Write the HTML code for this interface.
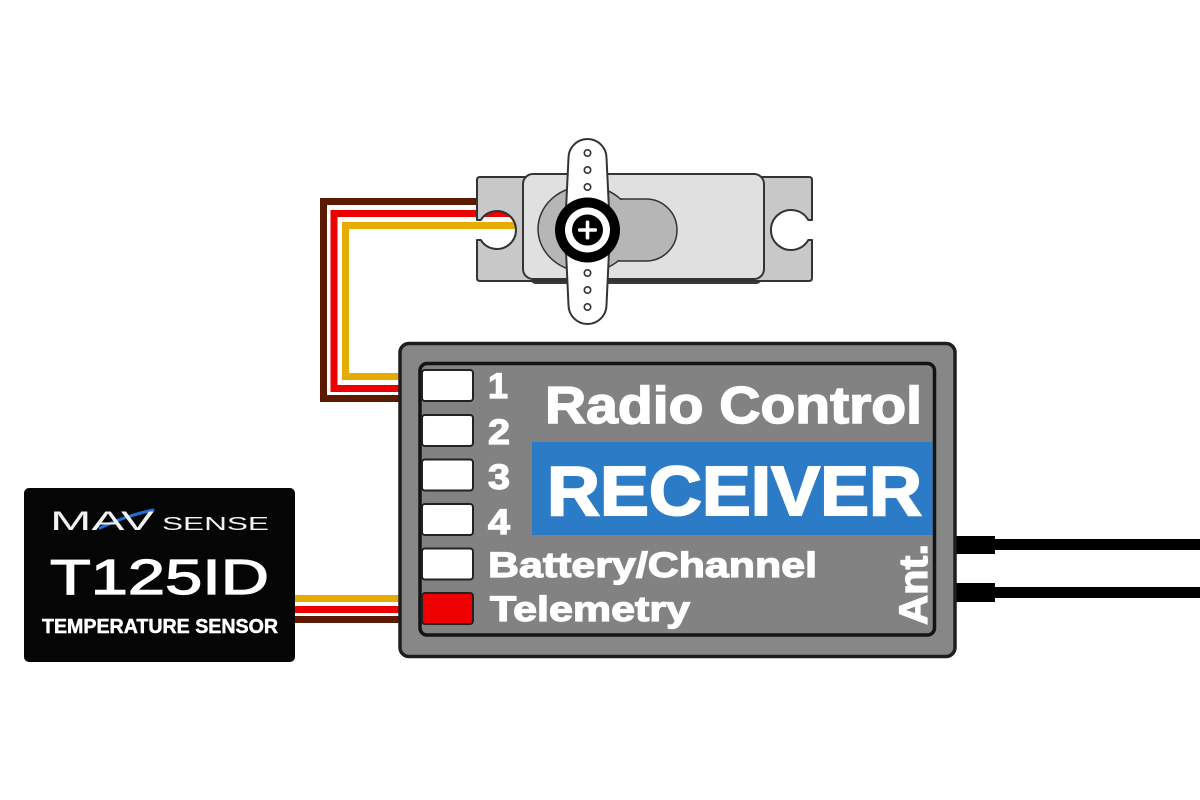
<!DOCTYPE html>
<html>
<head>
<meta charset="utf-8">
<style>
  html,body{margin:0;padding:0;background:#fff;}
  svg{display:block;}
  text{font-family:"Liberation Sans",sans-serif;}
</style>
</head>
<body>
<svg width="1200" height="800" viewBox="0 0 1200 800" xmlns="http://www.w3.org/2000/svg">
  <rect x="0" y="0" width="1200" height="800" fill="#ffffff"/>

  <!-- Servo cable (loop) -->
  <g fill="none" stroke-linejoin="miter">
    <polyline points="479,201.5 323.5,201.5 323.5,398.5 402,398.5" stroke="#5c1a00" stroke-width="7"/>
    <polyline points="512,213.5 334,213.5 334,388.5 402,388.5" stroke="#ee0000" stroke-width="7"/>
    <polyline points="515,225.5 345.5,225.5 345.5,376.5 402,376.5" stroke="#e6ac00" stroke-width="7"/>
  </g>

  <!-- Servo -->
  <rect x="530" y="266" width="232" height="18" rx="6" fill="#3a3a3a"/>
  <path d="M 480 177 H 809 Q 812 177 812 180 V 220 H 808.3 A 20 20 0 1 0 808.3 240 H 812 V 278 Q 812 281 809 281 H 480 Q 477 281 477 278 V 240 H 480.8 A 19 19 0 1 0 480.8 220 H 477 V 180 Q 477 177 480 177 Z"
        fill="#c8c8c8" stroke="#333" stroke-width="2" stroke-linejoin="round"/>
  <rect x="523" y="174" width="241" height="105" rx="10" fill="#e0e0e0" stroke="#333" stroke-width="2"/>
  <rect x="590" y="199" width="87" height="62" rx="31" fill="#b6b6b6" stroke="#333" stroke-width="1.5"/>
  <ellipse cx="586" cy="229" rx="48" ry="43" fill="#b6b6b6" stroke="#333" stroke-width="1.5"/>
  <rect x="600" y="200" width="40" height="60" fill="#b6b6b6"/>
  <!-- horn -->
  <path d="M 568.5 158 A 19 19 0 0 1 606.5 158 L 610 230 L 606.5 305 A 19 19 0 0 1 568.5 305 L 565 230 Z"
        fill="#ffffff" stroke="#333" stroke-width="2"/>
  <g fill="#fff" stroke="#333" stroke-width="1.6">
    <circle cx="587.5" cy="153" r="3.2"/>
    <circle cx="587.5" cy="170" r="3.2"/>
    <circle cx="587.5" cy="187" r="3.2"/>
    <circle cx="587.5" cy="273" r="3.2"/>
    <circle cx="587.5" cy="290" r="3.2"/>
    <circle cx="587.5" cy="307" r="3.2"/>
  </g>
  <circle cx="587.5" cy="230" r="32.5" fill="#000"/>
  <circle cx="587.5" cy="230" r="22.5" fill="#fff"/>
  <circle cx="587.5" cy="230" r="15.5" fill="#000"/>
  <rect x="578" y="228.2" width="19" height="3.6" rx="1.5" fill="#fff"/>
  <rect x="585.7" y="220.5" width="3.6" height="19" rx="1.5" fill="#fff"/>

  <!-- Sensor cable -->
  <rect x="292" y="595" width="110" height="7" fill="#e6ac00"/>
  <rect x="292" y="606" width="110" height="7" fill="#ee0000"/>
  <rect x="292" y="616" width="110" height="7" fill="#5c1a00"/>

  <!-- Antennas -->
  <rect x="950" y="536" width="45" height="18" fill="#000"/>
  <rect x="990" y="539" width="210" height="11" fill="#000"/>
  <rect x="950" y="583" width="45" height="19" fill="#000"/>
  <rect x="990" y="587" width="210" height="11" fill="#000"/>

  <!-- Receiver -->
  <rect x="400" y="343.5" width="555" height="313" rx="9" fill="#878787" stroke="#1e1e1e" stroke-width="3.5"/>
  <rect x="420" y="363.5" width="514.5" height="271.5" rx="7" fill="#828282" stroke="#141414" stroke-width="3.5"/>
  <rect x="532" y="442" width="400.5" height="93" fill="#2b7bc6"/>

  <g stroke="#222" stroke-width="2">
    <rect x="422" y="370" width="51" height="31" rx="3" fill="#fff"/>
    <rect x="422" y="415" width="51" height="31" rx="3" fill="#fff"/>
    <rect x="422" y="459.5" width="51" height="31" rx="3" fill="#fff"/>
    <rect x="422" y="504" width="51" height="31" rx="3" fill="#fff"/>
    <rect x="422" y="548.5" width="51" height="31" rx="3" fill="#fff"/>
    <rect x="422" y="593" width="51" height="31" rx="3" fill="#ee0000"/>
  </g>

  <g fill="#ffffff" stroke="#ffffff" stroke-width="1.2" font-weight="bold">
    <text x="488" y="398" font-size="35" textLength="20" lengthAdjust="spacingAndGlyphs">1</text>
    <text x="488" y="444" font-size="35" textLength="22" lengthAdjust="spacingAndGlyphs">2</text>
    <text x="488" y="489" font-size="35" textLength="22" lengthAdjust="spacingAndGlyphs">3</text>
    <text x="488" y="534" font-size="35" textLength="22" lengthAdjust="spacingAndGlyphs">4</text>
    <text x="488" y="577" font-size="35" textLength="329" lengthAdjust="spacingAndGlyphs">Battery/Channel</text>
    <text x="490" y="621" font-size="35" textLength="200" lengthAdjust="spacingAndGlyphs">Telemetry</text>
    <text x="545" y="423" font-size="52" stroke-width="1.5" textLength="377" lengthAdjust="spacingAndGlyphs">Radio Control</text>
    <text x="547" y="515" font-size="70" stroke-width="2" textLength="375" lengthAdjust="spacingAndGlyphs">RECEIVER</text>
    <text x="0" y="0" font-size="40" textLength="81" lengthAdjust="spacingAndGlyphs" transform="translate(927,625) rotate(-90)">Ant.</text>
  </g>

  <!-- Sensor -->
  <rect x="24" y="488" width="271" height="174" rx="5" fill="#050505"/>
  <path d="M 100 528 Q 125 516 153 510" fill="none" stroke="#1f6fd6" stroke-width="3" stroke-linecap="round"/>
  <text x="50" y="530" font-size="27" fill="#f2f2f2" textLength="104" lengthAdjust="spacingAndGlyphs">MAV</text>
  <text x="162" y="530" font-size="18" fill="#f2f2f2" textLength="107" lengthAdjust="spacingAndGlyphs">SENSE</text>
  <text x="50" y="594" font-size="49" fill="#ffffff" stroke="#ffffff" stroke-width="1.2" textLength="219" lengthAdjust="spacingAndGlyphs">T125ID</text>
  <text x="42" y="633" font-size="20" font-weight="bold" fill="#ffffff" stroke="#ffffff" stroke-width="0.5" textLength="236" lengthAdjust="spacingAndGlyphs">TEMPERATURE SENSOR</text>
</svg>
</body>
</html>
